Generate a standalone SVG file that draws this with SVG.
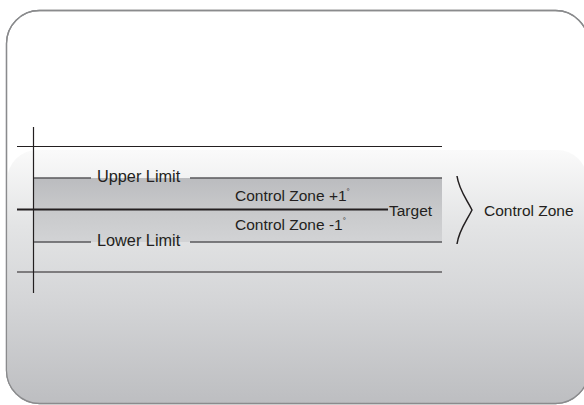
<svg xmlns="http://www.w3.org/2000/svg" width="584" height="405" viewBox="0 0 584 405">
<defs>
<linearGradient id="bg" x1="0" y1="0" x2="0" y2="1">
<stop offset="0" stop-color="#fafafa"/>
<stop offset="0.3" stop-color="#e3e4e5"/>
<stop offset="0.6" stop-color="#d4d5d7"/>
<stop offset="1" stop-color="#bdbec1"/>
</linearGradient>
<linearGradient id="band" x1="0" y1="0" x2="0" y2="1">
<stop offset="0" stop-color="#bbbcbf"/>
<stop offset="0.5" stop-color="#c8c9cb"/>
<stop offset="1" stop-color="#d2d3d5"/>
</linearGradient>
<style>
.ln{stroke:#231f20;stroke-width:1.2;fill:none}
.bd{stroke:#58595b;stroke-width:1.5;fill:none}
.t{font-family:"Liberation Sans",Arial,sans-serif;font-size:15.5px;fill:#231f20}
.big{font-size:16.3px}
.sup{font-size:8px}
</style>
</defs>
<g id="frame">
<rect x="6.5" y="10.5" width="582" height="393" rx="33" fill="#ffffff" stroke="#8a8b8d" stroke-width="1.3"/>
<rect x="7.2" y="150" width="580" height="253" rx="30" fill="url(#bg)"/>
<rect x="6.5" y="10.5" width="582" height="393" rx="33" fill="none" stroke="#8a8b8d" stroke-width="1.3"/>
</g>
<g id="band-zone">
<rect x="34" y="178" width="408" height="64" fill="url(#band)"/>
</g>
<g id="connectors">
<line class="ln" x1="33.5" y1="127" x2="33.5" y2="293"/>
<line class="ln" x1="17" y1="146.5" x2="442" y2="146.5"/>
<line class="bd" x1="34" y1="178" x2="91" y2="178"/>
<line class="bd" x1="190" y1="178" x2="442" y2="178"/>
<line x1="17" y1="209.5" x2="388" y2="209.5" stroke="#231f20" stroke-width="2"/>
<line class="bd" x1="34" y1="242" x2="91" y2="242"/>
<line class="bd" x1="190" y1="242" x2="442" y2="242"/>
<line class="ln" x1="17" y1="272" x2="442" y2="272"/>
<path d="M457,176 C459,190 466,198 472,210 C466,222 459,230 457,244" fill="none" stroke="#231f20" stroke-width="1.5"/>
</g>
<g id="upper-limit"><text class="t big" x="97" y="182">Upper Limit</text></g>
<g id="lower-limit"><text class="t big" x="97" y="246">Lower Limit</text></g>
<g id="zone-plus"><text class="t" x="235" y="201">Control Zone +1<tspan class="sup" dy="-7">°</tspan></text></g>
<g id="zone-minus"><text class="t" x="235" y="230">Control Zone -1<tspan class="sup" dy="-7">°</tspan></text></g>
<g id="target"><text class="t" x="389" y="216">Target</text></g>
<g id="control-zone"><text class="t" x="484" y="216">Control Zone</text></g>
</svg>
